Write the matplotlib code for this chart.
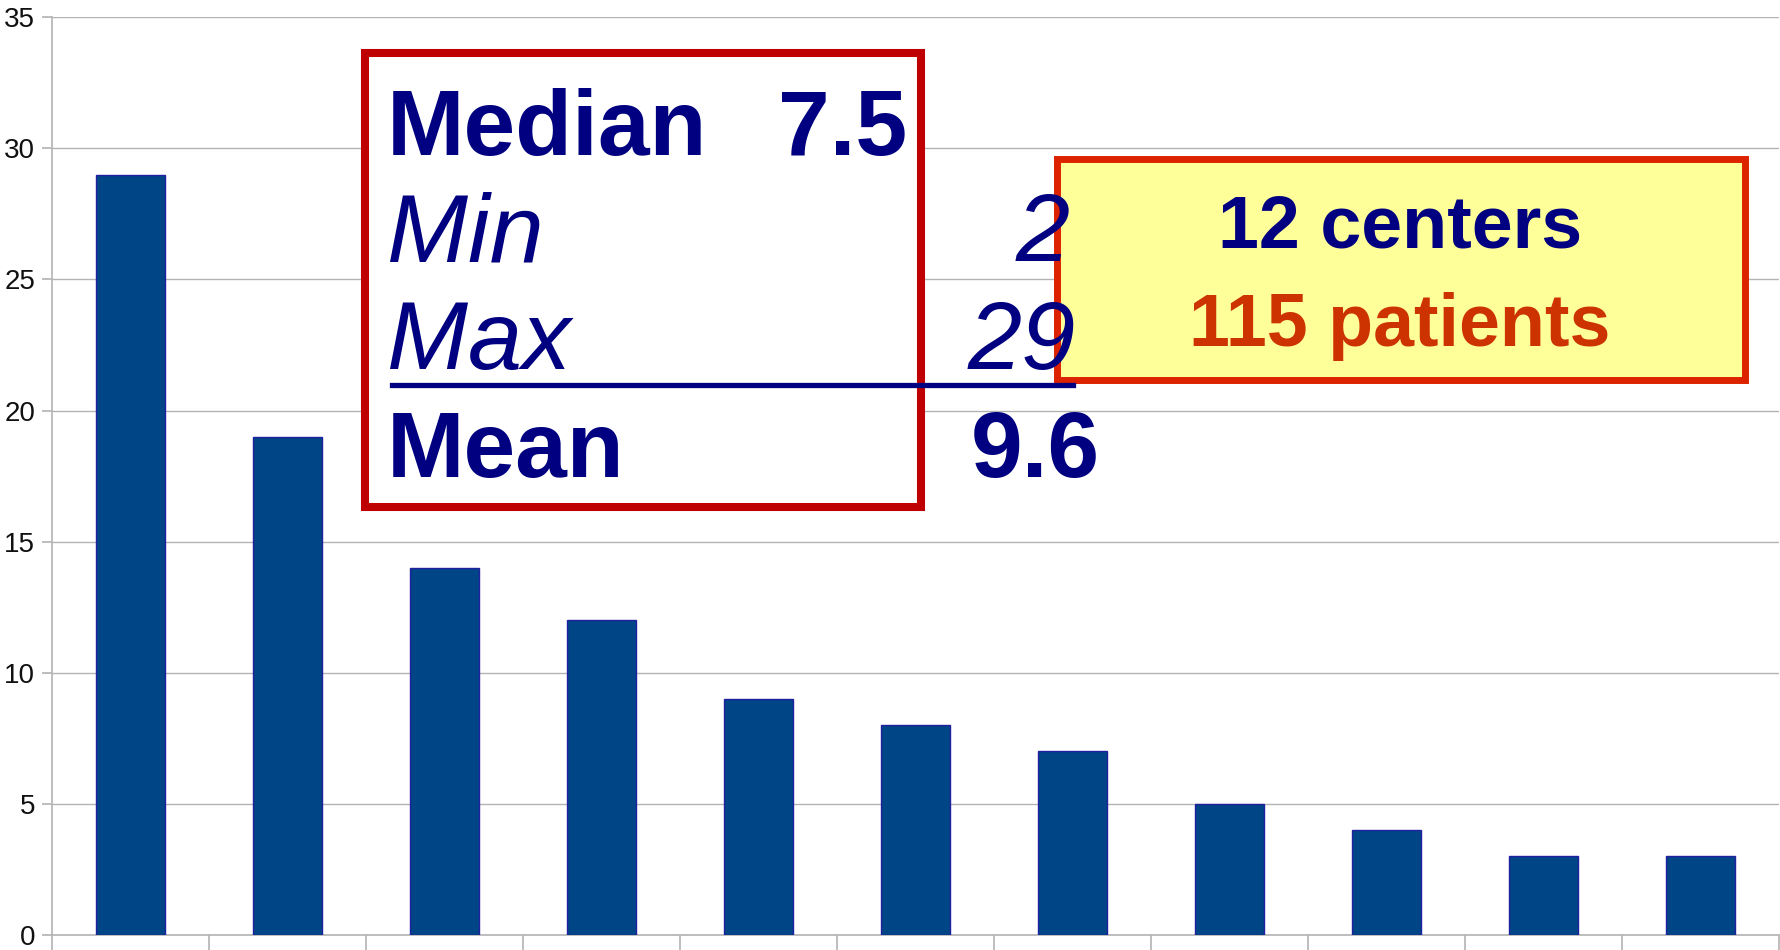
import matplotlib
matplotlib.use("Agg")
import matplotlib.pyplot as plt
from matplotlib.patches import Rectangle
from matplotlib.lines import Line2D
import numpy as np

# patients per center (12 centers, 115 patients; last center off the visible axis)
counts = [29, 19, 14, 12, 9, 8, 7, 5, 4, 3, 3, 2]
y_ticks = [0, 5, 10, 15, 20, 25, 30, 35]

stats_labels = ["Median", "Min", "Max", "Mean"]
stats_values = ["7.5", "2", "29", "9.6"]
summary_lines = ["12 centers", "115 patients"]

W, H = 1780, 950
NAVY = "#000080"
GRID = "#b3b3b3"

fig = plt.figure(figsize=(W / 100, H / 100), dpi=100)


def px(x, y):
    # pixel position (from top-left) -> figure fraction
    return x / W, 1 - y / H


ax = fig.add_axes([52 / W, 15 / H, 1727 / W, (935 - 17.3) / H])
x = np.arange(len(counts))
ax.bar(x, counts, width=0.44, color="#004586", edgecolor="#2020a0",
       linewidth=1, zorder=3)
ax.set_xlim(-0.5, 10.5)
ax.set_ylim(0, 35)
ax.set_yticks(y_ticks, labels=[str(v) for v in y_ticks], fontsize=20,
              family=["Liberation Sans", "DejaVu Sans"], color="#111111")
ax.set_xticks(np.arange(-0.5, 11, 1))
ax.set_xticklabels([])
ax.grid(True, axis="y", color=GRID, linewidth=1, zorder=0)
for s in ["top", "right"]:
    ax.spines[s].set_visible(False)
for s in ["left", "bottom"]:
    ax.spines[s].set_color(GRID)
    ax.spines[s].set_linewidth(1.2)
ax.tick_params(axis="x", length=11, color=GRID, width=1.2)
ax.tick_params(axis="y", length=7, color=GRID, width=1.2, pad=5)

# statistics box
fig.add_artist(Rectangle(px(365, 507), (921 - 365) / W, (507 - 53) / H,
                         transform=fig.transFigure, facecolor="white",
                         edgecolor="#c00000", linewidth=5.8, zorder=1.5))
# summary box
fig.add_artist(Rectangle(px(1056.5, 380.5), (1744.5 - 1056.5) / W,
                         (380.5 - 159.5) / H, transform=fig.transFigure,
                         facecolor="#ffff99", edgecolor="#dd2200",
                         linewidth=5, zorder=1.6))

fam = ["Liberation Sans", "DejaVu Sans"]
rows = [
    (155, "bold", "normal", 67, 907),
    (261, "normal", "italic", 70, 1070),
    (369, "normal", "italic", 70, 1076),
    (477, "bold", "normal", 67, 1100),
]
for (base, weight, style, size, xr), lab, val in zip(rows, stats_labels, stats_values):
    fig.text(*px(387, base), lab, family=fam, fontsize=size, fontweight=weight,
             fontstyle=style, color=NAVY, va="baseline", ha="left", zorder=3)
    fig.text(*px(xr, base), val, family=fam, fontsize=size, fontweight=weight,
             fontstyle=style, color=NAVY, va="baseline", ha="right", zorder=3)

x0, y0 = px(392, 385)
x1, _ = px(1073, 385)
fig.add_artist(Line2D([x0, x1], [y0, y0], transform=fig.transFigure,
                      color=NAVY, linewidth=3.8, zorder=2.5))

fig.text(*px(1400, 247), summary_lines[0], family=fam, fontsize=53,
         fontweight="bold", color=NAVY, ha="center", va="baseline", zorder=3)
fig.text(*px(1400, 346), summary_lines[1], family=fam, fontsize=53,
         fontweight="bold", color="#cc3300", ha="center", va="baseline", zorder=3)

fig.savefig("out.png", dpi=100)
